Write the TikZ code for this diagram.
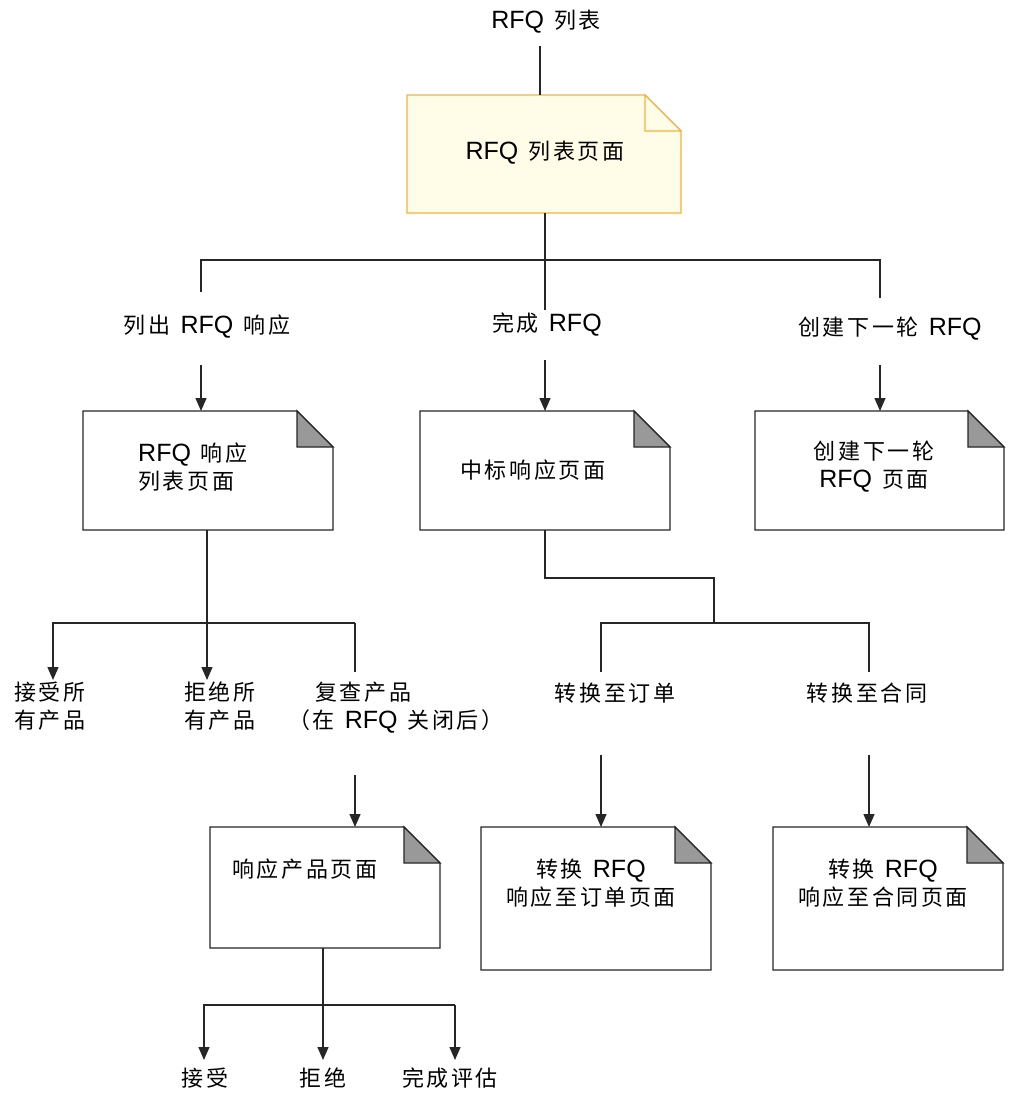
\documentclass[tikz,border=0pt]{standalone}
\usepackage{fontspec}
\setmainfont{Liberation Sans}
\newfontfamily\cjk[LetterSpace=12]{Noto Sans CJK SC}
\usetikzlibrary{arrows.meta}
\definecolor{notefill}{HTML}{FFFDE8}
\definecolor{noteline}{HTML}{F2B33D}
\definecolor{earfill}{HTML}{999999}
\newcommand{\zh}[1]{{\fontsize{22}{28}\selectfont\cjk #1}}
\newcommand{\gap}{\hspace{10pt}}
\tikzset{
  x=1pt,y=-1pt,
  lbl/.style={inner sep=0pt,font=\fontsize{25}{28}\selectfont},
  conn/.style={line width=1.4pt,draw=black!85},
  arr/.style={conn,-{Triangle[width=11pt,length=13pt]}},
}
% \pagenote{name}{x1}{y1}{x2}{y2}{fill}{line}{earfill}
\newcommand{\pagenote}[8]{%
  \coordinate (#1-nw) at (#2,#3);
  \coordinate (#1-se) at (#4,#5);
  \node[draw=none,inner sep=0pt] (#1) at ({(#2+#4)/2},{(#3+#5)/2}) {};
  \filldraw[line width=1.4pt,draw=#7,fill=#6,line join=miter]
    (#2,#3) -- ({#4-36},#3) -- (#4,{#3+36}) -- (#4,#5) -- (#2,#5) -- cycle;
  \filldraw[line width=1.4pt,draw=#7,fill=#8,line join=miter]
    ({#4-36},#3) -- ({#4-36},{#3+36}) -- (#4,{#3+36}) -- cycle;
}
\begin{document}
\begin{tikzpicture}
\useasboundingbox (0,0) rectangle (1009,1093);

% top label and note
\node[lbl] (T) at (546,22) {RFQ\gap\zh{列表}};
\pagenote{N}{407}{95}{681}{213}{notefill}{noteline}{notefill}
\node[lbl] (Nt) at (545,153) {RFQ\gap\zh{列表页面}};
\draw[conn] (540,46) coordinate (t0) -- (t0 |- N-nw);

% first level branching
\coordinate (b0) at (545,213);
\coordinate (bm) at (545,310);
\coordinate (bl) at (201,260);
\coordinate (br) at (880,260);
\draw[conn] (b0) -- (bm);
\draw[conn] (bl) ++(0,32) -- (bl) -- (br) -- ++(0,38);

\node[lbl] (L1) at (207,327) {\zh{列出}\gap RFQ\gap\zh{响应}};
\node[lbl] (L2) at (547,325) {\zh{完成}\gap RFQ};
\node[lbl] (L3) at (890,329) {\zh{创建下一轮}\gap RFQ};

% second row boxes
\pagenote{A}{83}{411}{333}{530}{white}{black!85}{earfill}
\pagenote{B}{420}{411}{670}{530}{white}{black!85}{earfill}
\pagenote{C}{755}{411}{1004}{530}{white}{black!85}{earfill}
\node[lbl,anchor=west,align=left] (At) at (138,467) {RFQ\gap\zh{响应}\\[0pt]\zh{列表页面}};
\node[lbl,anchor=west] (Bt) at (460,470) {\zh{中标响应页面}};
\node[lbl,align=center] (Ct) at (874,467) {\zh{创建下一轮}\\[0pt]RFQ\gap\zh{页面}};

\draw[arr] (201,365) -- (201,411);
\draw[arr] (545,360) -- (545,411);
\draw[arr] (880,365) -- (880,411);

% A children
\coordinate (a0) at (207,530);
\coordinate (al) at (53,623);
\coordinate (ar) at (355,623);
\draw[arr] (a0) -- (207,680);
\draw[arr] (al -| ar) -- (al) -- (53,680);
\draw[conn] (ar) -- (355,672);

\node[lbl,anchor=west,align=left] (S1) at (14,706) {\zh{接受所}\\[0pt]\zh{有产品}};
\node[lbl,anchor=west,align=left] (S2) at (184,706) {\zh{拒绝所}\\[0pt]\zh{有产品}};
\node[lbl,anchor=north west,align=left] (S3) at (288,682) {\hspace*{27pt}\zh{复查产品}\\[0pt]\zh{（在}\gap RFQ\gap\zh{关闭后）}};

% D box
\draw[arr] (355,775) -- (355,827);
\pagenote{D}{210}{827}{440}{948}{white}{black!85}{earfill}
\node[lbl,anchor=west] (Dt) at (232,869) {\zh{响应产品页面}};

\coordinate (d0) at (323,948);
\coordinate (dl) at (204,1005);
\coordinate (dr) at (455,1005);
\draw[arr] (d0) -- (323,1060);
\draw[arr] (dr) -- (dl) -- (204,1060);
\draw[arr] (dr) -- (455,1060);
\node[lbl] (U1) at (205,1078) {\zh{接受}};
\node[lbl] (U2) at (323,1078) {\zh{拒绝}};
\node[lbl] (U3) at (450,1078) {\zh{完成评估}};

% B children
\draw[conn] (545,530) -- (545,578) -- (714,578) -- (714,623);
\draw[conn] (601,672) -- (601,623) -- (869,623) -- (869,672);
\node[lbl] (V1) at (615,693) {\zh{转换至订单}};
\node[lbl] (V2) at (867,693) {\zh{转换至合同}};
\draw[arr] (601,755) -- (601,827);
\draw[arr] (869,755) -- (869,827);

\pagenote{E}{481}{827}{711}{970}{white}{black!85}{earfill}
\pagenote{F}{773}{827}{1003}{970}{white}{black!85}{earfill}
\node[lbl,align=center] (Et) at (591,883) {\zh{转换}\gap RFQ\\[0pt]\zh{响应至订单页面}};
\node[lbl,align=center] (Ft) at (883,883) {\zh{转换}\gap RFQ\\[0pt]\zh{响应至合同页面}};
\end{tikzpicture}
\end{document}
